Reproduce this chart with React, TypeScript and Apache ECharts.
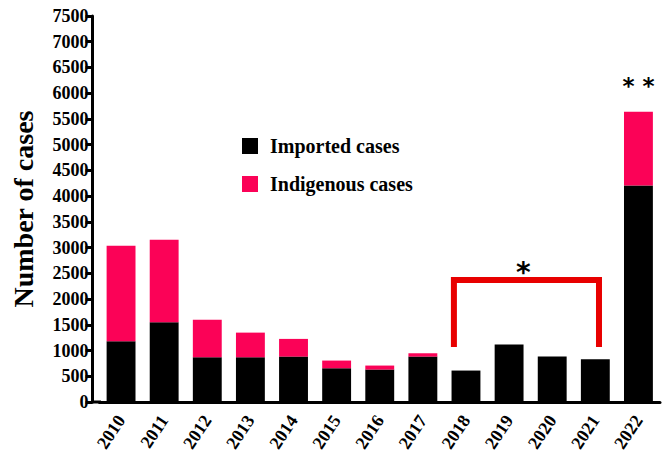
import React, { useEffect, useRef } from "react";
import * as echarts from "echarts";

const years = ["2010", "2011", "2012", "2013", "2014", "2015", "2016", "2017", "2018", "2019", "2020", "2021", "2022"];
const importedCases = [1180, 1548, 869, 869, 882, 656, 630, 882, 611, 1115, 882, 831, 4205];
const indigenousCases = [1855, 1604, 731, 479, 344, 149, 78, 65, 0, 0, 0, 0, 1435];
const yTicks = { min: 0, max: 7500, interval: 500 };
// significance bracket: [start index, end index, top value, bottom value]
const bracket = [[8, 11, 2370, 1069]];
const bracketMark = "*";
const lastMark = "* *";

const serif = "'Liberation Serif', 'Times New Roman', serif";
const PINK = "#FB0257";
const RED = "#E80000";

export default function App() {
  const ref = useRef<HTMLDivElement>(null);
  useEffect(() => {
    if (!ref.current) return;
    const chart = echarts.init(ref.current, undefined, { renderer: "svg" });
    const option: any = {
      animation: false,
      backgroundColor: "#fff",
      grid: { left: 99.5, right: 3, top: 16, bottom: 56, containLabel: false },
      legend: {
        orient: "vertical",
        left: 237,
        top: 131,
        itemWidth: 16,
        itemHeight: 16,
        itemGap: 18,
        icon: "rect",
        selectedMode: false,
        textStyle: {
          fontFamily: serif,
          fontWeight: "bold",
          fontSize: 20,
          color: "#000",
          lineHeight: 16,
          padding: [0, 0, 0, 7],
        },
        data: ["Imported cases", "Indigenous cases"],
      },
      xAxis: {
        type: "category",
        data: years,
        axisLine: { lineStyle: { color: "#000", width: 3 } },
        axisTick: { alignWithLabel: true, length: 7, lineStyle: { color: "#000", width: 3 } },
        axisLabel: {
          rotate: 56,
          margin: 15,
          fontFamily: serif,
          fontWeight: "bold",
          fontSize: 18,
          color: "#000",
          interval: 0,
        },
      },
      yAxis: {
        type: "value",
        min: yTicks.min,
        max: yTicks.max,
        interval: yTicks.interval,
        offset: 7,
        name: "Number of cases",
        nameLocation: "middle",
        nameGap: 55,
        nameTextStyle: { fontFamily: serif, fontWeight: "bold", fontSize: 28, color: "#000" },
        splitLine: { show: false },
        axisLine: { show: true, lineStyle: { color: "#000", width: 3 } },
        axisTick: { show: true, length: 7, lineStyle: { color: "#000", width: 3 } },
        axisLabel: {
          margin: 4,
          fontFamily: serif,
          fontWeight: "bold",
          fontSize: 18,
          color: "#000",
          formatter: (v: number) => String(v),
        },
      },
      graphic: [
        { type: "line", shape: { x1: 91, y1: 402, x2: 101, y2: 402 }, style: { stroke: "#000", lineWidth: 3 }, z: 100 },
      ],
      series: [
        {
          name: "Imported cases",
          type: "bar",
          stack: "cases",
          barWidth: "67%",
          itemStyle: { color: "#000" },
          data: importedCases,
        },
        {
          name: "Indigenous cases",
          type: "bar",
          stack: "cases",
          barWidth: "67%",
          itemStyle: { color: PINK },
          data: indigenousCases.map((v, i) =>
            i === years.length - 1
              ? {
                  value: v,
                  label: {
                    show: true,
                    position: "top",
                    distance: 14,
                    formatter: lastMark,
                    fontFamily: "'DejaVu Sans', sans-serif",
                    fontWeight: "bold",
                    fontSize: 23,
                    color: "#000",
                  },
                }
              : v
          ),
        },
        {
          type: "custom",
          name: "bracket",
          silent: true,
          z: 10,
          data: bracket,
          renderItem: (params: any, api: any) => {
            const bw = api.size([1, 0])[0];
            const s = api.coord([api.value(0), api.value(2)]);
            const e = api.coord([api.value(1), api.value(2)]);
            const b = api.coord([api.value(0), api.value(3)]);
            const lx = s[0] - 0.28 * bw;
            const rx = e[0] + 0.085 * bw;
            const ty = s[1];
            const by = b[1];
            return {
              type: "group",
              children: [
                {
                  type: "polyline",
                  shape: { points: [[lx, by], [lx, ty], [rx, ty], [rx, by]] },
                  style: { stroke: RED, lineWidth: 6, fill: null, lineJoin: "miter", lineCap: "butt" },
                },
                {
                  type: "text",
                  x: (lx + rx) / 2 - 3,
                  y: ty + 6,
                  style: {
                    text: bracketMark,
                    fontFamily: "'DejaVu Sans', sans-serif",
                    fontWeight: "bold",
                    fontSize: 28,
                    fill: "#000",
                    align: "center",
                    verticalAlign: "bottom",
                  },
                },
              ],
            };
          },
        },
      ],
    };
    chart.setOption(option);
    return () => chart.dispose();
  }, []);
  return <div ref={ref} style={{ width: 663, height: 458, position: "absolute", left: 0, top: 0 }} />;
}
